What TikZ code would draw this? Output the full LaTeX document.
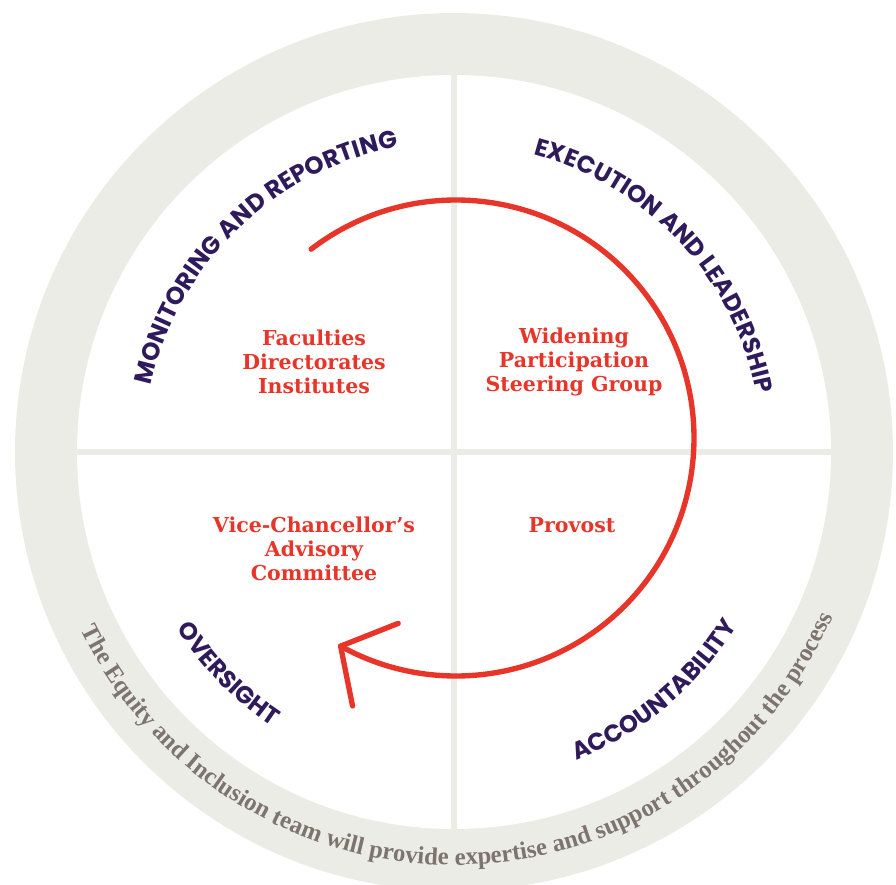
\documentclass[tikz,border=0pt]{standalone}
\usepackage{fontspec}
\usepackage{xcolor}
\usepackage{tikz}
\usetikzlibrary{decorations.text}

\newfontfamily\enteserif{DejaVu Serif}
\newfontfamily\fasefont{Poppins}
\newfontfamily\anellofont{Liberation Serif}

\definecolor{rosso}{HTML}{E8352A}
\definecolor{viola}{HTML}{2F1A5C}
\definecolor{anello}{HTML}{ECECE7}
\definecolor{testoanello}{HTML}{7D746E}

\tikzset{
  ente/.style={text=rosso, align=center, font=\enteserif\bfseries\fontsize{14.6}{17}\selectfont},
  divisore/.style={anello, line width=3.6pt},
  freccia/.style={rosso, line width=3.8pt, line cap=round, line join=round}
}

\begin{document}
\begin{tikzpicture}[x=0.025cm,y=0.025cm]
      \useasboundingbox (-454,-432) rectangle (442,452);

      % Disegno dell'anello
      \fill[anello] (0,0) circle[radius=439];
      \fill[white] (0,0) circle[radius=377];
      \draw[divisore] (0,377) -- (0,-377);
      \draw[divisore] (-377,0) -- (377,0);

      % Disegno dei nodi
      \node[ente] (facolta) at (-140,90) {Faculties\\Directorates\\Institutes};
      \node[ente] (gruppo) at (120,90) {Widening\\Participation\\Steering Group};
      \node[ente] (comitato) at (-140,-97) {Vice-Chancellor’s\\Advisory\\Committee};
      \node[ente] (provost) at (118,-73) {Provost};

      % Disegno della freccia
      \draw[freccia] (2,14) ++(127.5:238) arc[start angle=127.5, end angle=-119, radius=238] coordinate (punta);
      \draw[freccia] (punta) ++(21.6:62) -- (punta) -- ++(-78.7:61);

      % Disegno delle fasi
      \path[decorate, decoration={text along path, text align=center, text color=viola,
        text={|\fasefont\bfseries\fontsize{17.4}{20}\selectfont|MONITORING AND REPORTING}}]
        (0,0) ++(185:310) arc[start angle=185, end angle=83, radius=310];
      \path[decorate, decoration={text along path, text align=center, text color=viola,
        text={|\fasefont\bfseries\fontsize{17.2}{20}\selectfont|EXECUTION AND LEADERSHIP}}]
        (0,0) ++(95:308) arc[start angle=95, end angle=-9, radius=308];
      \path[decorate, decoration={text along path, text align=center, text color=viola,
        text={|\fasefont\bfseries\fontsize{17.2}{20}\selectfont|ACCOUNTABILITY}}]
        (0,0) ++(-100:332) arc[start angle=-100, end angle=0, radius=332];
      \path[decorate, decoration={text along path, text align=center, text color=viola,
        text={|\fasefont\bfseries\fontsize{17.2}{20}\selectfont|OVERSIGHT}}]
        (0,0) ++(-180:329) arc[start angle=-180, end angle=-91, radius=329];

      % Testo sull'anello
      \path[decorate, decoration={text along path, text align=center, text color=testoanello,
        text={|\anellofont\bfseries\fontsize{17.6}{20}\selectfont|The Equity and Inclusion team will provide expertise and support throughout the process}}]
        (0,0) ++(-175:413) arc[start angle=-175, end angle=-3, radius=413];
    \end{tikzpicture}
\end{document}
